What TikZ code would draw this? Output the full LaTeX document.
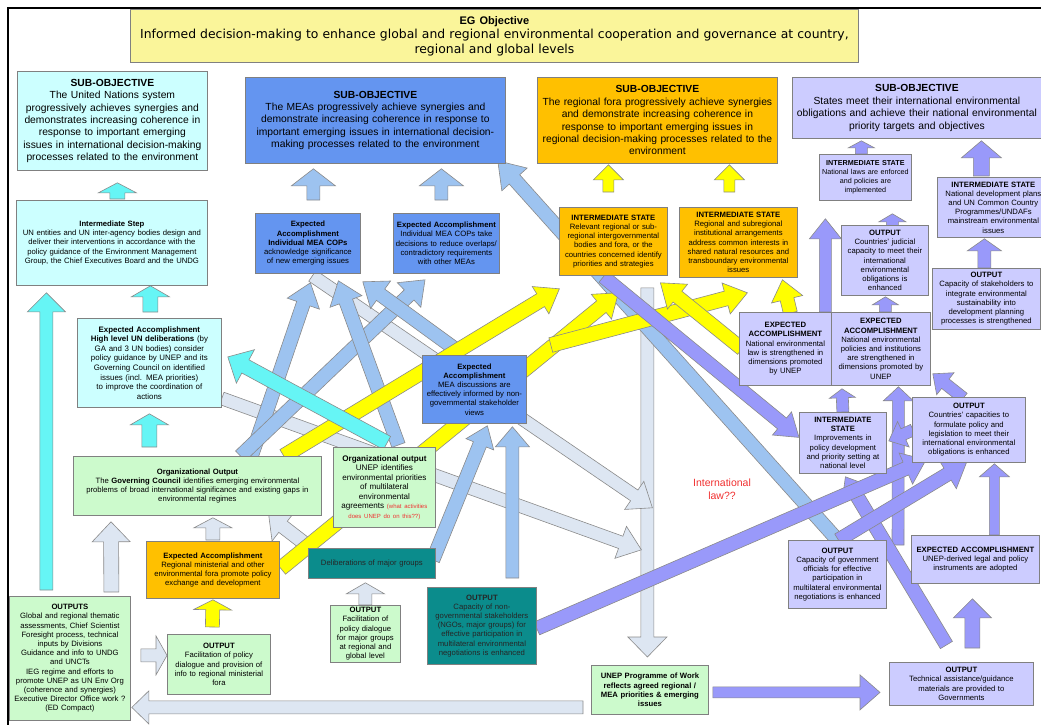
\documentclass[tikz,border=0pt]{standalone}
\usepackage{fontspec}
\setmainfont{Liberation Sans}
\newfontfamily\verdana{DejaVu Sans}
\usetikzlibrary{calc}

\definecolor{titleyellow}{HTML}{FAF59A}
\definecolor{cyanbox}{HTML}{CCFFFF}
\definecolor{cyanarrow}{HTML}{66F5F5}
\definecolor{greenbox}{HTML}{CCFACC}
\definecolor{orangebox}{HTML}{FFC000}
\definecolor{meabox}{HTML}{6495F0}
\definecolor{lavbox}{HTML}{CCCCFF}
\definecolor{purplearrow}{HTML}{9999FA}
\definecolor{bluearrow}{HTML}{9DC3F0}
\definecolor{greyarrow}{HTML}{DDE6F2}
\definecolor{yellowarrow}{HTML}{FFFF00}
\definecolor{tealbox}{HTML}{0B8C8C}
\definecolor{boxline}{HTML}{808080}
\definecolor{arrowline}{HTML}{8A8A8A}
\definecolor{lawred}{HTML}{F03030}

\newcommand{\smalltxt}{\fontsize{7.7bp}{9.2bp}\selectfont}
\newcommand{\bigtxt}{\fontsize{10.3bp}{12.4bp}\selectfont}

\pgfdeclarelayer{back}
\pgfsetlayers{back,main}

\tikzset{arrshaft/.store in=\arrshaft, arrhead/.store in=\arrhead,
         arrlen/.store in=\arrlen, arrshaft=7bp, arrhead=17bp, arrlen=22bp}
\tikzset{box/.style = {draw=boxline, line width=0.8bp, anchor=north west, align=center,
                       inner sep=0pt, font=\smalltxt}}
\tikzset{sz/.code 2 args = {\pgfmathsetmacro\boxtw{#1-3}%
                            \pgfkeysalso{minimum width=#1bp, minimum height=#2bp, text width=\boxtw bp}}}
\tikzset{greyarr/.style = {fill=greyarrow, draw=arrowline, line width=0.6bp}}
\tikzset{bluearr/.style = {fill=bluearrow, draw=arrowline, line width=0.6bp}}
\tikzset{cyanarr/.style = {fill=cyanarrow, draw=arrowline, line width=0.6bp}}
\tikzset{yellowarr/.style = {fill=yellowarrow, draw=arrowline, line width=0.6bp}}
\tikzset{purplearr/.style = {fill=purplearrow, draw=arrowline, line width=0.6bp}}

\newcommand{\fatarrow}[3][]{%
  \begin{pgfonlayer}{back}
    \begin{scope}[#1]
      \coordinate (fastart) at (#2);
      \coordinate (fatip) at (#3);
      \coordinate (fabase) at ($(fatip)!\arrlen!(fastart)$);
      \path[#1] ($(fastart)!\arrshaft!90:(fatip)$) -- ($(fabase)!\arrshaft!90:(fatip)$)
        -- ($(fabase)!\arrhead!90:(fatip)$) -- (fatip) -- ($(fabase)!\arrhead!-90:(fatip)$)
        -- ($(fabase)!\arrshaft!-90:(fatip)$) -- ($(fastart)!\arrshaft!-90:(fatip)$) -- cycle;
    \end{scope}
  \end{pgfonlayer}}

\begin{document}
\begin{tikzpicture}[x=1bp, y=-1bp]
  \useasboundingbox (0,0) rectangle (1041,725);
  \draw[line width=2.5bp] (8,725) -- (8,8) -- (1041,8);

  \node[box, sz={728}{53}, fill=titleyellow, font=\verdana\fontsize{12.4bp}{14.5bp}\selectfont] (eg) at (130,9)
    {{\rmfamily\bfseries\fontsize{11bp}{14.5bp}\selectfont EG Objective}\\Informed decision-making to enhance global and regional environmental cooperation and governance at country,\\regional and global levels};

  \node[box, sz={190}{99}, fill=cyanbox, font=\bigtxt] (subun) at (17,71)
    {\textbf{SUB-OBJECTIVE}\\The United Nations system\\progressively achieves synergies and\\demonstrates increasing coherence in\\response to important emerging\\issues in international decision-making\\processes related to the environment};
  \node[box, sz={191}{85}, fill=cyanbox] (interstep) at (16,200)
    {\textbf{Intermediate Step}\\UN entities and UN inter-agency bodies design and\\deliver their interventions in accordance with the\\policy guidance of the Environment Management\\Group, the Chief Executives Board and the UNDG};
  \node[box, sz={144}{89}, fill=cyanbox, font=\fontsize{7.9bp}{9.6bp}\selectfont] (eahigh) at (77,318)
    {\textbf{Expected Accomplishment}\\\textbf{High level UN deliberations} (by\\GA and 3 UN bodies) consider\\policy guidance by UNEP and its\\Governing Council on identified\\issues (incl. MEA priorities)\\to improve the coordination of\\actions};

  \node[box, sz={260}{86}, fill=meabox, font=\bigtxt] (submea) at (245,77)
    {\textbf{SUB-OBJECTIVE}\\The MEAs progressively achieve synergies and\\demonstrate increasing coherence in response to\\important emerging issues in international decision-\\making processes related to the environment};
  \node[box, sz={105}{60}, fill=meabox] (eaack) at (255,213)
    {\textbf{Expected}\\\textbf{Accomplishment}\\\textbf{Individual MEA COPs}\\acknowledge significance\\of new emerging issues};
  \node[box, sz={106}{60}, fill=meabox] (eadec) at (393,213)
    {\textbf{Expected Accomplishment}\\Individual MEA COPs take\\decisions to reduce overlaps/\\contradictory requirements\\with other MEAs};
  \node[box, sz={104}{68}, fill=meabox] (eadisc) at (422,355)
    {\textbf{Expected}\\\textbf{Accomplishment}\\MEA discussions are\\effectively informed by non-\\governmental stakeholder\\views};

  \node[box, sz={240}{86}, fill=orangebox, font=\bigtxt] (subreg) at (537,77)
    {\textbf{SUB-OBJECTIVE}\\The regional fora progressively achieve synergies\\and demonstrate increasing coherence in\\response to important emerging issues in\\regional decision-making processes related to the\\environment};
  \node[box, sz={108}{68}, fill=orangebox] (isrel) at (559,207)
    {\textbf{INTERMEDIATE STATE}\\Relevant regional or sub-\\regional intergovernmental\\bodies and fora, or the\\countries concerned identify\\priorities and strategies};
  \node[box, sz={118}{70}, fill=orangebox] (issub) at (679,207)
    {\textbf{INTERMEDIATE STATE}\\Regional and subregional\\institutional arrangements\\address common interests in\\shared natural resources and\\transboundary environmental\\issues};

  \node[box, sz={249}{61}, fill=lavbox, font=\bigtxt] (substates) at (792,77)
    {\textbf{SUB-OBJECTIVE}\\States meet their international environmental\\obligations and achieve their national environmental\\priority targets and objectives};
  \node[box, sz={92}{46}, fill=lavbox, font=\fontsize{7.2bp}{9bp}\selectfont] (islaws) at (819,154)
    {\textbf{INTERMEDIATE STATE}\\National laws are enforced\\and policies are\\implemented};
  \node[box, sz={112}{60}, fill=lavbox] (isplans) at (937,177)
    {\textbf{INTERMEDIATE STATE}\\National development plans\\and UN Common Country\\Programmes/UNDAFs\\mainstream environmental\\issues};
  \node[box, sz={87}{70}, fill=lavbox] (outjud) at (841,225)
    {\textbf{OUTPUT}\\Countries' judicial\\capacity to meet their\\international\\environmental\\obligations is\\enhanced};
  \node[box, sz={108}{61}, fill=lavbox] (outcap) at (932,268)
    {\textbf{OUTPUT}\\Capacity of stakeholders to\\integrate environmental\\sustainability into\\development planning\\processes is strengthened};
  \node[box, sz={92}{73}, fill=lavbox] (ealaw) at (739,312)
    {\textbf{EXPECTED}\\\textbf{ACCOMPLISHMENT}\\National environmental\\law is strengthened in\\dimensions promoted\\by UNEP};
  \node[box, sz={99}{73}, fill=lavbox] (eapol) at (831,312)
    {\textbf{EXPECTED}\\\textbf{ACCOMPLISHMENT}\\National environmental\\policies and institutions\\are strengthened in\\dimensions promoted by\\UNEP};
  \node[box, sz={87}{61}, fill=lavbox] (isimp) at (799,412)
    {\textbf{INTERMEDIATE}\\\textbf{STATE}\\Improvements in\\policy development\\and priority setting at\\national level};
  \node[box, sz={113}{65}, fill=lavbox] (outctry) at (912,397)
    {\textbf{OUTPUT}\\Countries' capacities to\\formulate policy and\\legislation to meet their\\international environmental\\obligations is enhanced};
  \node[box, sz={98}{68}, fill=lavbox] (outgov) at (788,540)
    {\textbf{OUTPUT}\\Capacity of government\\officials for effective\\participation in\\multilateral environmental\\negotiations is enhanced};
  \node[box, sz={128}{48}, fill=lavbox] (eaderiv) at (911,535)
    {\textbf{EXPECTED ACCOMPLISHMENT}\\UNEP-derived legal and policy\\instruments are adopted};
  \node[box, sz={144}{43}, fill=lavbox] (outtech) at (889,662)
    {\textbf{OUTPUT}\\Technical assistance/guidance\\materials are provided to\\Governments};

  \node[box, sz={248}{59}, fill=greenbox] (gc) at (73,456)
    {\textbf{Organizational Output}\\The \textbf{Governing Council} identifies emerging environmental\\problems of broad international significance and existing gaps in\\environmental regimes};
  \node[box, sz={102}{80}, fill=greenbox, font=\fontsize{8.1bp}{9.5bp}\selectfont] (orgout) at (333,447)
    {\textbf{Organizational output}\\UNEP identifies\\environmental priorities\\of multilateral\\environmental\\agreements \textcolor{lawred}{\fontsize{6bp}{9bp}\selectfont (what activities}\\\textcolor{lawred}{\fontsize{6bp}{9bp}\selectfont does UNEP do on this??)}};
  \node[box, sz={133}{57}, fill=orangebox] (eareg) at (146,541)
    {\textbf{Expected Accomplishment}\\Regional ministerial and other\\environmental fora promote policy\\exchange and development};
  \node[box, sz={127}{30}, fill=tealbox, text=black!85] (delib) at (308,548)
    {Deliberations of major groups};
  \node[box, sz={70}{57}, fill=greenbox] (outmaj) at (330,605)
    {\textbf{OUTPUT}\\Facilitation of\\policy dialogue\\for major groups\\at regional and\\global level};
  \node[box, sz={109}{77}, fill=tealbox, text=black!85] (outngo) at (427,587)
    {\textbf{OUTPUT}\\Capacity of non-\\governmental stakeholders\\(NGOs, major groups) for\\effective participation in\\multilateral environmental\\negotiations is enhanced};
  \node[box, sz={121}{124}, fill=greenbox] (outputs) at (9,596)
    {\textbf{OUTPUTS}\\Global and regional thematic\\assessments, Chief Scientist\\Foresight process, technical\\inputs by Divisions\\Guidance and info to UNDG\\and UNCTs\\IEG regime and efforts to\\promote UNEP as UN Env Org\\(coherence and synergies)\\Executive Director Office work ?\\(ED Compact)};
  \node[box, sz={103}{60}, fill=greenbox] (outfac) at (167,634)
    {\textbf{OUTPUT}\\Facilitation of policy\\dialogue and provision of\\info to regional ministerial\\fora};
  \node[box, sz={117}{49}, fill=greenbox, font=\smalltxt\bfseries] (pow) at (591,665)
    {UNEP Programme of Work\\reflects agreed regional /\\MEA priorities \& emerging\\issues};

  \node[text=lawred, align=center, font=\fontsize{10.5bp}{12.5bp}\selectfont] (law) at (722,489)
    {International\\law??};

  \coordinate (vtop) at ($(isrel.south)+(34,12)$);

  \fatarrow[greyarr, arrshaft=6.5bp, arrhead=19.5bp, arrlen=20bp]{vtop}{$(pow.north)+(-2.5,-8)$}
  \fatarrow[greyarr, arrshaft=6.5bp, arrhead=17bp, arrlen=22bp]{$(eaack.south)+(4.5,2)$}{$(vtop)+(5,220)$}
  \fatarrow[greyarr, arrshaft=6.5bp, arrhead=17bp, arrlen=22bp]{$(eahigh.east)+(0,35.5)$}{$(vtop)+(-6,262)$}
  \fatarrow[greyarr, arrshaft=7.5bp, arrhead=19bp, arrlen=20bp]{$(outputs.north)+(41.5,-4)$}{$(gc.south west)+(38,6)$}
  \fatarrow[greyarr, arrshaft=7bp, arrhead=19bp, arrlen=10bp]{$(eareg.north)+(0,-1)$}{$(gc.south)+(15.5,2)$}
  \fatarrow[greyarr, arrshaft=6.5bp, arrhead=19.5bp, arrlen=11bp]{$(outputs.east)+(10,-3)$}{$(outfac.west)+(0,-9)$}
  \fatarrow[greyarr, arrshaft=6.5bp, arrhead=16.5bp, arrlen=17bp]{$(pow.west)+(-8,17.5)$}{$(outputs.east)+(1,49)$}
  \fatarrow[greyarr, arrshaft=6.5bp, arrhead=19bp, arrlen=11bp]{outmaj.north}{$(delib.south)+(-6.5,4)$}
  \fatarrow[greyarr, arrshaft=7bp, arrhead=18bp, arrlen=18bp]{$(delib.north west)+(0,-2)$}{$(gc.south east)+(-53,0)$}

  \fatarrow[bluearr, arrshaft=6.5bp, arrhead=22bp, arrlen=17bp]{$(eaack.north)+(5.5,-13)$}{$(submea.south)+(-62,5)$}
  \fatarrow[bluearr, arrshaft=6.5bp, arrhead=22bp, arrlen=17bp]{$(eadec.north)+(-5,-13)$}{$(submea.south)+(66,5)$}
  \fatarrow[bluearr, arrshaft=7bp, arrhead=17bp, arrlen=25bp]{$(outgov.north)+(1,1)$}{$(submea.south east)+(-8,-3)$}
  \fatarrow[bluearr]{$(gc.north)+(54,0)$}{$(eaack.south)+(2.5,9)$}
  \fatarrow[bluearr]{$(gc.north)+(43,0)$}{$(eadec.south west)+(32,6)$}
  \fatarrow[bluearr]{$(orgout.north)+(14,-2)$}{$(eaack.south)+(30.5,7)$}
  \fatarrow[bluearr]{$(eadisc.north)+(-11,0)$}{$(eaack.south east)+(2,8)$}
  \fatarrow[bluearr, arrhead=15bp, arrlen=20bp]{$(delib.north east)+(-3,12)$}{$(eadisc.south)+(13,2)$}
  \fatarrow[bluearr, arrshaft=6.5bp, arrlen=20bp]{$(outngo.north)+(30.5,-9)$}{$(eadisc.south)+(38,3)$}

  \fatarrow[yellowarr, arrshaft=5.5bp, arrhead=15bp, arrlen=15bp]{$(isrel.north)+(-5,-15)$}{$(subreg.south)+(-49,1)$}
  \fatarrow[yellowarr, arrshaft=5.5bp, arrhead=15bp, arrlen=15bp]{$(issub.north)+(-9,-15)$}{$(subreg.south)+(72,1)$}
  \fatarrow[yellowarr, arrshaft=7bp, arrhead=19bp, arrlen=10bp]{$(outfac.north)+(-6.5,-7)$}{$(eareg.south)+(0,1)$}
  \fatarrow[yellowarr, arrshaft=7.5bp, arrhead=16bp]{$(gc.north east)+(-38,0)$}{$(isrel.south)+(-54,13)$}
  \fatarrow[yellowarr, arrshaft=7.5bp, arrhead=16bp]{$(eareg.east)+(1,-1.5)$}{$(isrel.south)+(5,17)$}
  \fatarrow[yellowarr, arrshaft=7.5bp, arrhead=16bp]{$(eadisc.north east)+(24,-10)$}{$(issub.south)+(9,15)$}
  \fatarrow[yellowarr, arrhead=16bp]{$(ealaw.west)+(3,0)$}{$(isrel.south)+(47,7)$}
  \fatarrow[yellowarr, arrhead=16bp, arrlen=20bp]{$(ealaw.north)+(5,1)$}{$(issub.south)+(44,2)$}

  \fatarrow[cyanarr, arrshaft=7.5bp, arrhead=19bp, arrlen=10bp]{$(interstep.north)+(5.5,-1)$}{$(subun.south)+(5,12)$}
  \fatarrow[cyanarr, arrshaft=7.5bp, arrhead=19bp, arrlen=11bp]{$(eahigh.north)+(1,-6)$}{$(interstep.south)+(38.5,0)$}
  \fatarrow[cyanarr, arrshaft=7.5bp, arrhead=19bp, arrlen=11bp]{$(gc.north)+(-48,-9)$}{$(eahigh.south)+(0,6)$}
  \fatarrow[cyanarr, arrshaft=6.5bp, arrhead=19bp, arrlen=19bp]{$(outputs.north)+(-23.5,-6)$}{$(interstep.south)+(-65.5,7)$}
  \fatarrow[cyanarr, arrshaft=7.5bp, arrhead=19bp, arrlen=20bp]{$(orgout.north west)+(54,-4)$}{$(eahigh.east)+(6,-6)$}

  \fatarrow[purplearr, arrshaft=6bp, arrhead=13bp, arrlen=7bp]{$(islaws.north)+(-4,0)$}{$(substates.south)+(-55.5,2)$}
  \fatarrow[purplearr, arrshaft=8bp, arrhead=20bp, arrlen=17bp]{$(isplans.north)+(-12,-1)$}{$(substates.south)+(64.5,2)$}
  \fatarrow[purplearr, arrshaft=6bp, arrhead=13.5bp, arrlen=8bp]{$(outjud.north)+(7.5,1)$}{$(islaws.south)+(27,13)$}
  \fatarrow[purplearr, arrshaft=6bp, arrhead=16bp, arrlen=20bp]{$(ealaw.north)+(40,0)$}{$(islaws.south)+(-40,18)$}
  \fatarrow[purplearr, arrshaft=6bp, arrhead=13bp, arrlen=8bp]{$(eapol.north)+(4.5,0)$}{$(outjud.south)+(0.5,1)$}
  \fatarrow[purplearr, arrshaft=6.5bp, arrhead=17bp, arrlen=12bp]{$(outcap.north)+(-2,0)$}{$(isplans.south)+(-9,1)$}
  \fatarrow[purplearr, arrshaft=6bp, arrhead=13bp, arrlen=9bp]{isimp.north}{$(eapol.south west)+(11,3)$}
  \fatarrow[purplearr, arrshaft=6bp, arrhead=15bp, arrlen=14bp]{$(eaderiv.north west)+(-13,10)$}{$(eapol.south)+(17.5,1)$}
  \fatarrow[purplearr, arrshaft=6bp, arrhead=14bp, arrlen=16bp]{$(outctry.north)+(-5.5,1)$}{$(eapol.south east)+(2,-12)$}
  \fatarrow[purplearr, arrshaft=6bp, arrhead=14bp, arrlen=16bp]{$(outctry.west)+(1,0)$}{$(isimp.east)+(2,-2)$}
  \fatarrow[purplearr, arrshaft=7bp, arrhead=16bp, arrlen=20bp]{$(outtech.north)+(-15,-17)$}{$(isimp.south)+(2.5,3)$}
  \fatarrow[purplearr]{$(outngo.east)+(0,2.5)$}{$(outctry.south west)+(14,-3)$}
  \fatarrow[purplearr]{$(outgov.north)+(1,0)$}{$(outctry.south)+(-2.5,0)$}
  \fatarrow[purplearr, arrshaft=7.5bp, arrhead=19bp, arrlen=19bp]{$(outtech.north)+(11,-14)$}{$(eaderiv.south)+(-3,15)$}
  \fatarrow[purplearr, arrshaft=5bp, arrhead=15bp, arrlen=13bp]{$(eaderiv.north)+(19,0)$}{$(outctry.south)+(25.5,1)$}
  \fatarrow[purplearr, arrshaft=5.5bp, arrhead=17.5bp, arrlen=20bp]{$(pow.east)+(4,2.5)$}{$(outtech.west)+(-9,8.5)$}
  \fatarrow[purplearr, arrhead=15bp]{$(isrel.south)+(-10,1)$}{$(isimp.west)+(0,-5.5)$}
\end{tikzpicture}
\end{document}
